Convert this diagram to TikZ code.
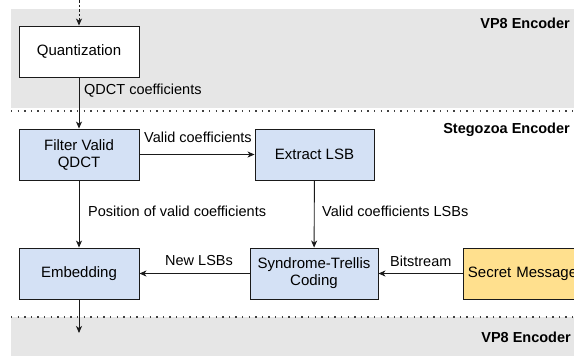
\documentclass[tikz,border=0pt]{standalone}
\usepackage{fontspec}
\setmainfont{Liberation Sans}
\usetikzlibrary{arrows.meta}
\definecolor{bandgray}{HTML}{E6E6E6}
\definecolor{boxblue}{HTML}{D4E1F5}
\definecolor{boxyellow}{HTML}{FFE08E}
\definecolor{linedark}{HTML}{1A1A1A}
\begin{document}
\begin{tikzpicture}[x=1pt,y=-1pt,
  font=\fontsize{14.5}{16.5}\selectfont,
  box/.style={draw=linedark,line width=0.9pt,minimum width=120pt,minimum height=51pt,align=center,inner sep=2pt,font=\fontsize{15}{17}\selectfont},
  bluebox/.style={box,fill=boxblue},
  conn/.style={draw=linedark,line width=0.9pt,-{Stealth[length=7pt,width=6pt,inset=2pt]}},
  lbl/.style={inner sep=0pt},
  sep/.style={draw=black!75,line width=1.4pt,dash pattern=on 1.4pt off 5.2pt},
  bandtitle/.style={inner sep=0pt,anchor=east,font=\fontsize{14.5}{16.5}\selectfont\bfseries}]
\useasboundingbox (0,0) rectangle (574,356);
% bands
\fill[bandgray] (11,9) rectangle (574,108);
\fill[bandgray] (11,317) rectangle (574,356);
\draw[sep] (11,111) -- (574,111);
\draw[sep] (11,317) -- (574,317);
\node[bandtitle] (vpa) at (570,23) {VP8 Encoder};
\node[bandtitle] (steg) at (570,130) {Stegozoa Encoder};
\node[bandtitle] (vpb) at (571,337) {VP8 Encoder};
% boxes
\node[box,fill=white] (quant) at (79,51.5) {Quantization};
\node[bluebox] (filter) at (79,154.5) {Filter Valid\\QDCT};
\node[bluebox,minimum width=119pt] (extract) at (314.5,154.5) {Extract LSB};
\node[bluebox] (embed) at (79,273.5) {Embedding};
\node[bluebox,minimum width=128pt] (stc) at (314,273.5) {Syndrome-Trellis\\Coding};
\node[box,fill=boxyellow,anchor=west,text width=114pt,align=left,inner xsep=4.5pt] (secret) at (463,273.5) {Secret Message};
% free ends
\coordinate (topin) at (79,0);
\coordinate (botout) at (79,333);
% connectors
\draw[conn,dash pattern=on 2.5pt off 2pt] (topin) -- (quant.north);
\draw[conn] (quant) -- (filter);
\draw[conn] (filter) -- (extract);
\draw[conn] (filter) -- (embed);
\draw[conn] (extract) -- (stc);
\draw[conn] (stc) -- (embed);
\draw[conn] (secret.west) -- (stc.east);
\draw[conn] (embed) -- (botout);
% labels
\node[lbl,anchor=west] (l1) at (84,91) {QDCT coefficients};
\node[lbl,anchor=west] (l2) at (144,137) {Valid coefficients};
\node[lbl,anchor=west] (l3) at (88,211) {Position of valid coefficients};
\node[lbl,anchor=west] (l4) at (322,211) {Valid coefficients LSBs};
\node[lbl,anchor=west] (l5) at (165,261) {New LSBs};
\node[lbl,anchor=west] (l6) at (390,261) {Bitstream};
\end{tikzpicture}
\end{document}
